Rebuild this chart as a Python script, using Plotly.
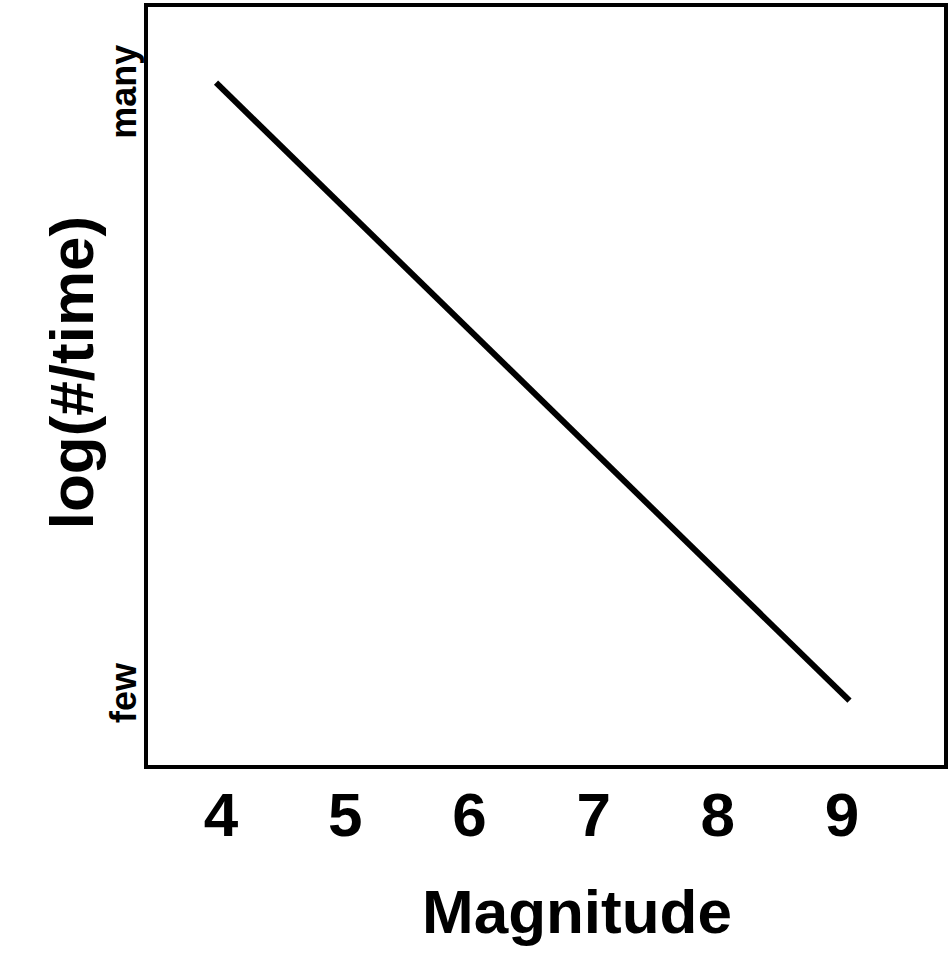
import plotly.graph_objects as go

magnitude = [3.96, 9.06]
log_rate = [8.98, 0.87]
x_ticks = [4, 5, 6, 7, 8, 9]
y_tick_vals = [0.90, 8.79]
y_tick_text = ["few", "many"]
x_title = "Magnitude"
y_title = "log(#/time)"

FONT = "Liberation Sans, Arial, Helvetica, sans-serif"

fig = go.Figure()
fig.add_trace(go.Scatter(x=magnitude, y=log_rate, mode="lines",
                         line=dict(color="black", width=6), showlegend=False,
                         hoverinfo="skip"))

fig.update_layout(
    width=948, height=978,
    margin=dict(l=146, r=2, t=5, b=211),
    paper_bgcolor="white", plot_bgcolor="white",
    xaxis=dict(range=[3.396, 9.837], tickvals=x_ticks, showgrid=False,
               zeroline=False, showline=False, ticks="",
               ticklabelstandoff=6,
               tickfont=dict(family=FONT, size=62, color="black", weight="bold")),
    yaxis=dict(range=[0, 10], tickvals=y_tick_vals, ticktext=y_tick_text,
               tickangle=-90, showgrid=False, zeroline=False, showline=False,
               ticks="", ticklabelstandoff=2,
               tickfont=dict(family=FONT, size=36, color="black", weight="bold")),
    shapes=[dict(type="rect", xref="paper", yref="paper", x0=0, y0=0, x1=1, y1=1,
                 line=dict(color="black", width=4), fillcolor="rgba(0,0,0,0)",
                 layer="above")],
    annotations=[
        dict(text=x_title, xref="paper", yref="paper", x=0.539, y=-0.19,
             xanchor="center", yanchor="middle", showarrow=False,
             font=dict(family=FONT, size=62, color="black", weight="bold")),
        dict(text=y_title, xref="paper", yref="paper", x=-0.0935, y=0.517,
             xanchor="center", yanchor="middle", textangle=-90, showarrow=False,
             font=dict(family=FONT, size=62, color="black", weight="bold")),
    ],
)

fig.write_html("out.html", config={"displayModeBar": False},
               post_script="document.body.style.margin='0';")
